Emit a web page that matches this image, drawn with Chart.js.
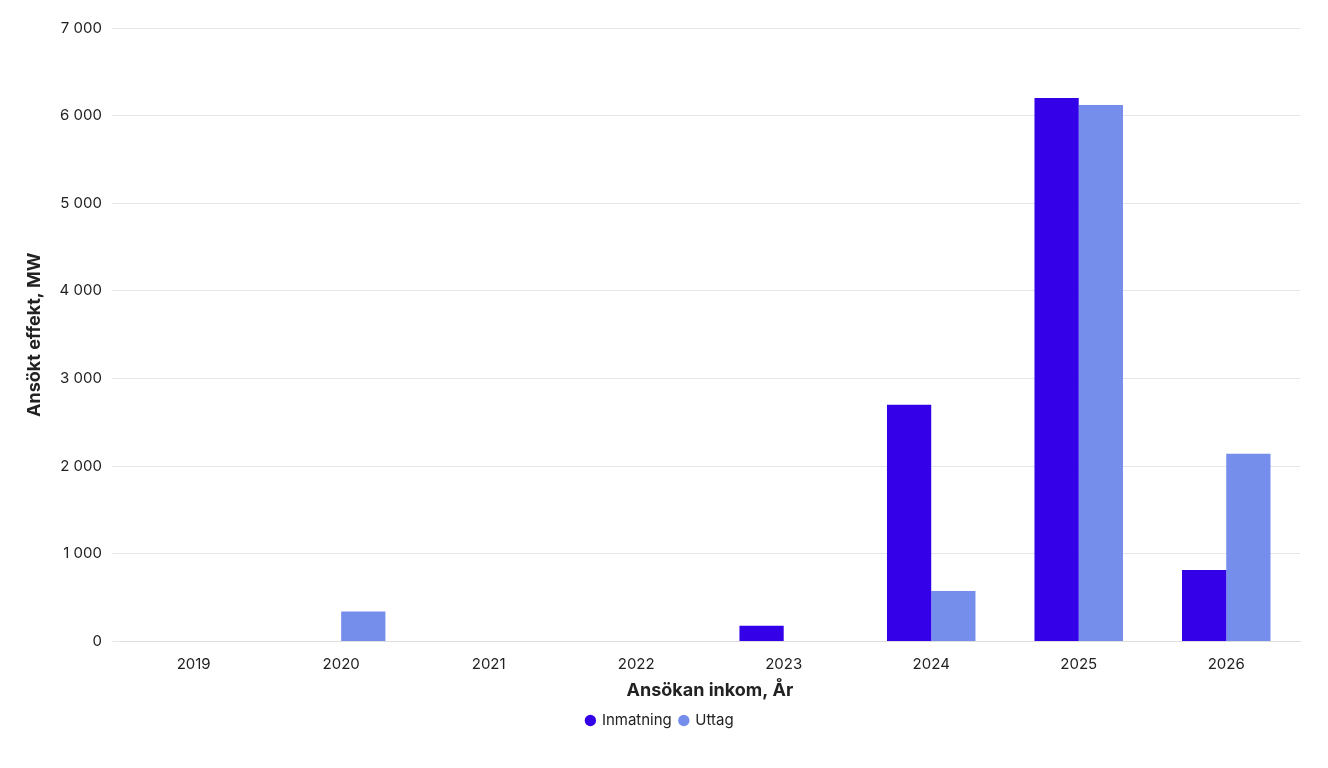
<!DOCTYPE html>
<html><head><meta charset="utf-8">
<script src="https://cdn.jsdelivr.net/npm/chart.js@4"></script>
<style>html,body{margin:0;padding:0;background:#fff}#w{width:1328px;height:768px}</style>
</head><body><div id="w"><canvas id="c"></canvas></div>
<script>
const categories = ["2019","2020","2021","2022","2023","2024","2025","2026"];
const inmatning = [0,0,0,0,180,2700,6200,815];
const uttag = [0,340,0,0,0,575,6120,2140];
Chart.defaults.font.family = "Inter, 'Noto Sans', sans-serif";
Chart.defaults.color = "#222";
new Chart(document.getElementById('c'), {
  type: 'bar',
  data: { labels: categories, datasets: [
    {label:'Inmatning', data: inmatning, backgroundColor:'#3300e8'},
    {label:'Uttag', data: uttag, backgroundColor:'#758deb'}
  ]},
  options: {
    responsive:true, maintainAspectRatio:false, animation:false,
    layout:{padding:{left:20,right:28,top:28,bottom:30}},
    datasets:{bar:{categoryPercentage:0.6,barPercentage:1}},
    plugins:{legend:{position:'bottom',labels:{usePointStyle:true,pointStyle:'circle',boxWidth:8,boxHeight:8,padding:8,font:{size:15}}},tooltip:{enabled:false}},
    scales:{
      x:{grid:{display:false},border:{color:'#ddd'},ticks:{font:{size:15},padding:6},
         title:{display:true,text:'Ansökan inkom, År',font:{size:18,weight:'bold'},padding:{top:0}}},
      y:{min:0,max:7000,ticks:{stepSize:1000,font:{size:15},padding:10,
           callback:v=>v.toString().replace(/\B(?=(\d{3})+(?!\d))/g,' ')},
         grid:{color:'#e6e6e6'},border:{display:false},
         title:{display:true,text:'Ansökt effekt, MW',font:{size:18,weight:'bold'}}}
    }
  }
});
</script></body></html>
